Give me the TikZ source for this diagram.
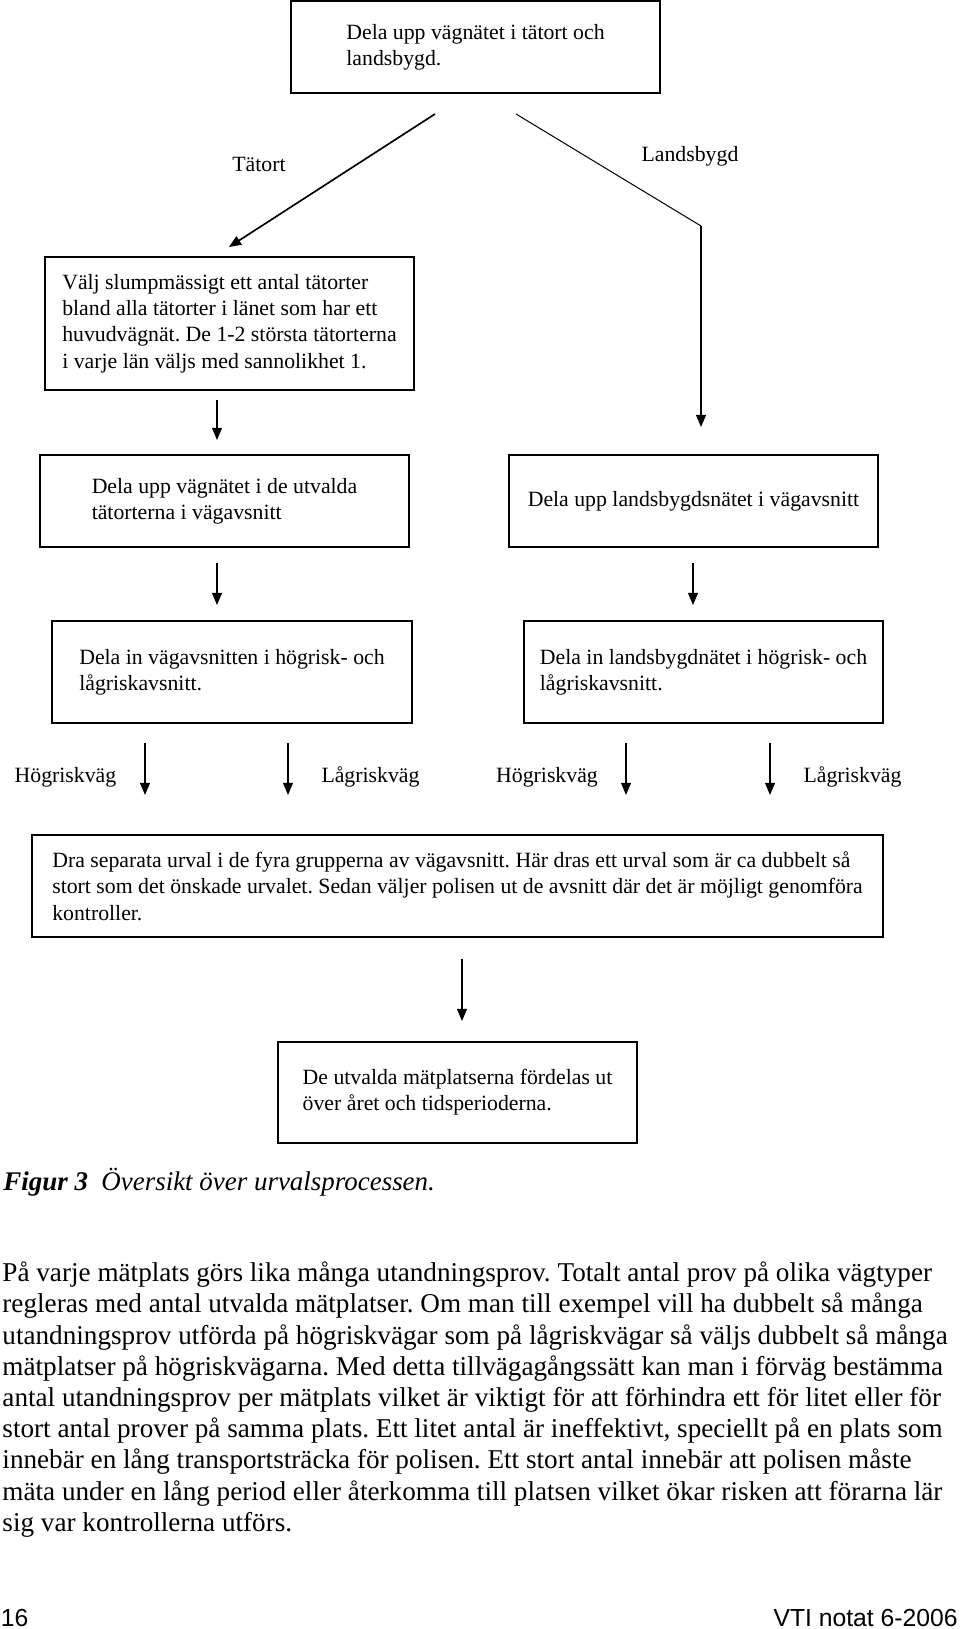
\documentclass[tikz,border=0pt]{standalone}
\usepackage{fontspec}
\setmainfont{Liberation Serif}
\newfontfamily\footfont{Liberation Sans}
\usetikzlibrary{arrows.meta}
\frenchspacing
\begin{document}
\begin{tikzpicture}[x=0.4454pt,y=-0.4454pt,
  box/.style={draw=black, line width=0.65pt, align=left, inner sep=0pt,
    font=\fontsize{9.7}{11.7}\selectfont},
  lbl/.style={inner sep=0pt, anchor=base, font=\fontsize{9.7}{11.7}\selectfont},
  arr/.style={line width=0.6pt, -{Triangle[length=5.4pt,width=4.4pt]}},
  para/.style={inner sep=0pt, anchor=base west, font=\fontsize{12.1}{13.9}\selectfont},
  foot/.style={inner sep=0pt, font=\footfont\fontsize{11}{13}\selectfont},
]
\useasboundingbox (0,0) rectangle (960,1629);
\fill[white] (0,0) rectangle (960,1629);

% boxes
\node[box, minimum width=164.4pt, minimum height=41pt] (top) at (475.5,47)
  {Dela upp vägnätet i tätort och\\landsbygd.};
\node[box, minimum width=164.4pt, minimum height=59.2pt] (valj) at (229.5,323.5)
  {Välj slumpmässigt ett antal tätorter\\bland alla tätorter i länet som har ett\\huvudvägnät. De 1-2 största tätorterna\\i varje län väljs med sannolikhet 1.};
\node[box, minimum width=164.4pt, minimum height=41pt] (uppL) at (224.5,501)
  {Dela upp vägnätet i de utvalda\\tätorterna i vägavsnitt};
\node[box, minimum width=164.4pt, minimum height=41pt] (uppR) at (693.5,501)
  {Dela upp landsbygdsnätet i vägavsnitt};
\node[box, minimum width=160.3pt, minimum height=45.4pt] (inL) at (232,672)
  {Dela in vägavsnitten i högrisk- och\\lågriskavsnitt.};
\node[box, minimum width=159.9pt, minimum height=45.4pt] (inR) at (703.5,672)
  {Dela in landsbygdnätet i högrisk- och\\lågriskavsnitt.};
\node[box, minimum width=379pt, minimum height=45.4pt] (dra) at (457.5,886)
  {Dra separata urval i de fyra grupperna av vägavsnitt. Här dras ett urval som är ca dubbelt så\\stort som det önskade urvalet. Sedan väljer polisen ut de avsnitt där det är möjligt genomföra\\kontroller.};
\node[box, minimum width=159.9pt, minimum height=45pt] (ford) at (457.5,1092.5)
  {De utvalda mätplatserna fördelas ut\\över året och tidsperioderna.};

% connector end points
\coordinate (tA) at (435,114);  \coordinate (tB) at (229,247);
\coordinate (lA) at (516,114);  \coordinate (lB) at (701,226);  \coordinate (lC) at (701,427);
\coordinate (v1a) at (217,400); \coordinate (v1b) at (217,440);
\coordinate (v2a) at (217,563); \coordinate (v2b) at (217,605);
\coordinate (v3a) at (693,563); \coordinate (v3b) at (693,605);
\coordinate (h1a) at (145,743); \coordinate (h1b) at (145,795);
\coordinate (h2a) at (288,743); \coordinate (h2b) at (288,795);
\coordinate (h3a) at (626,743); \coordinate (h3b) at (626,795);
\coordinate (h4a) at (770,743); \coordinate (h4b) at (770,795);
\coordinate (v4a) at (462,959); \coordinate (v4b) at (462,1021);

% connectors
\draw[arr, line width=0.75pt] (tA) -- (tB);
\draw[line width=0.45pt] (lA) -- (lB);
\draw[arr, line width=0.7pt] (lB) -- (lC);
\draw[arr] (v1a) -- (v1b);
\draw[arr] (v2a) -- (v2b);
\draw[arr] (v3a) -- (v3b);
\draw[arr] (h1a) -- (h1b);
\draw[arr] (h2a) -- (h2b);
\draw[arr] (h3a) -- (h3b);
\draw[arr] (h4a) -- (h4b);
\draw[arr] (v4a) -- (v4b);

% labels
\node[lbl] (tatort) at (259,172) {Tätort};
\node[lbl] (landsbygd) at (690,162) {Landsbygd};
\node[lbl] (hog1) at (65.5,782) {Högriskväg};
\node[lbl] (lag1) at (370.5,782) {Lågriskväg};
\node[lbl] (hog2) at (547,782) {Högriskväg};
\node[lbl] (lag2) at (852.5,782) {Lågriskväg};

% caption
\node[inner sep=0pt, anchor=base west, font=\fontsize{12}{14}\selectfont\bfseries\itshape] (fig) at (3,1190.5) {Figur 3};
\node[inner sep=0pt, anchor=base west, font=\fontsize{12}{14}\selectfont\itshape] (figtext) at (101,1190.5) {Översikt över urvalsprocessen.};

% paragraph
\foreach \txt [count=\i from 0] in {
 {På varje mätplats görs lika många utandningsprov. Totalt antal prov på olika vägtyper},
 {regleras med antal utvalda mätplatser. Om man till exempel vill ha dubbelt så många},
 {utandningsprov utförda på högriskvägar som på lågriskvägar så väljs dubbelt så många},
 {mätplatser på högriskvägarna. Med detta tillvägagångssätt kan man i förväg bestämma},
 {antal utandningsprov per mätplats vilket är viktigt för att förhindra ett för litet eller för},
 {stort antal prover på samma plats. Ett litet antal är ineffektivt, speciellt på en plats som},
 {innebär en lång transportsträcka för polisen. Ett stort antal innebär att polisen måste},
 {mäta under en lång period eller återkomma till platsen vilket ökar risken att förarna lär},
 {sig var kontrollerna utförs.}}
 \node[para] (p\i) at (2,{1281.7+31.2*\i}) {\txt};

% footer
\node[foot, anchor=base west] (page) at (0.5,1626) {16};
\node[foot, anchor=base east] (vti) at (958,1626) {VTI notat 6-2006};
\end{tikzpicture}
\end{document}
